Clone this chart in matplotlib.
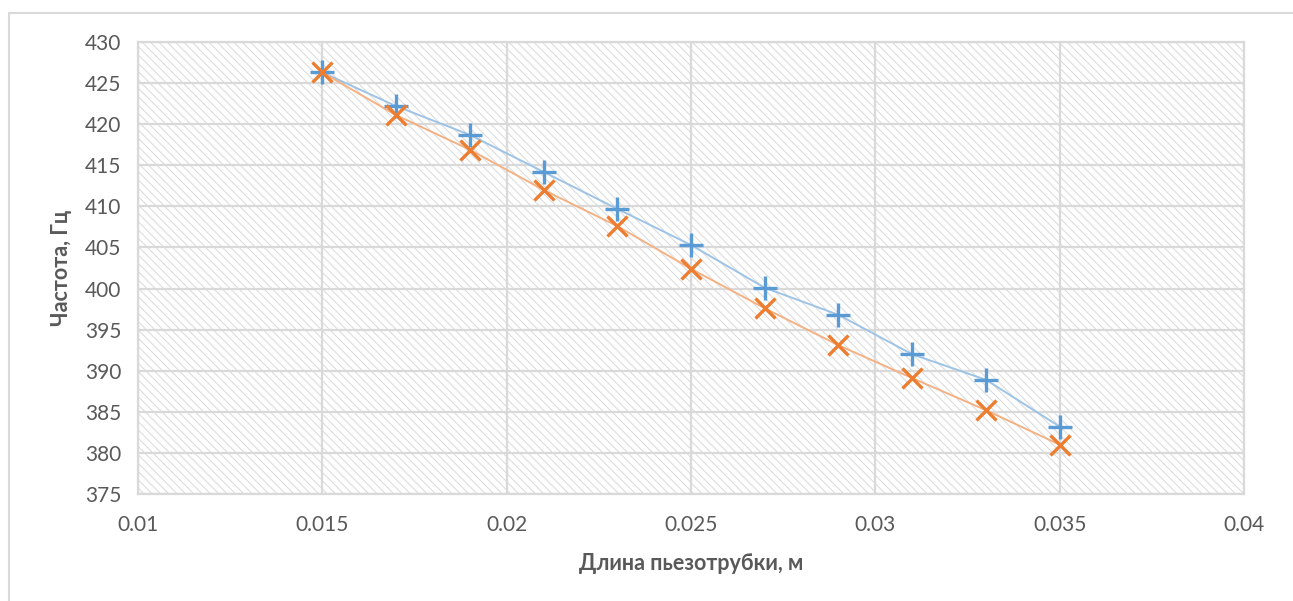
import matplotlib.pyplot as plt
from matplotlib.patches import Rectangle

# tube length, m
length = [0.015, 0.017, 0.019, 0.021, 0.023, 0.025, 0.027, 0.029, 0.031, 0.033, 0.035]
# frequency, Hz (two measurement series)
freq_plus = [426.3, 422.2, 418.7, 414.2, 409.7, 405.3, 400.1, 396.8, 392.0, 388.9, 383.2]
freq_cross = [426.3, 421.1, 416.9, 412.0, 407.6, 402.4, 397.6, 393.1, 389.1, 385.2, 381.0]

xticks = [0.01, 0.015, 0.02, 0.025, 0.03, 0.035, 0.04]
xticklabels = ['0.01', '0.015', '0.02', '0.025', '0.03', '0.035', '0.04']
yticks = list(range(375, 431, 5))

plt.rcParams['font.family'] = ['Lato', 'Open Sans', 'DejaVu Sans']
plt.rcParams['hatch.color'] = '#e0e0e0'
plt.rcParams['hatch.linewidth'] = 0.7

grey = '#595959'
gridc = '#d9d9d9'

fig = plt.figure(figsize=(12.93, 6.01), dpi=100)
ax = fig.add_axes([138/1293, 1-494/601, (1244-138)/1293, (494-42)/601])

# outer chart frame
fig.patches.append(Rectangle((9/1293, -0.1), 1.2, 1-13/601+0.1, transform=fig.transFigure,
                             fill=False, edgecolor=gridc, linewidth=1.5))

# hatched plot area
ax.add_patch(Rectangle((0, 0), 1, 1, transform=ax.transAxes, facecolor='white',
                       edgecolor=gridc, hatch='\\\\\\\\', linewidth=0, zorder=0))

ax.set_xlim(0.01, 0.04)
ax.set_ylim(375, 430)
ax.set_xticks(xticks, xticklabels)
ax.set_yticks(yticks)
ax.grid(True, color=gridc, linewidth=1.6, zorder=1)
ax.set_axisbelow(True)
for s in ax.spines.values():
    s.set_color(gridc)
    s.set_linewidth(1.6)
ax.tick_params(length=0, labelsize=15, colors=grey, pad=12)
ax.tick_params(axis='x', pad=15)

ax.plot(length, freq_plus, color='#9dc3e6', linewidth=1.4, zorder=3)
ax.plot(length, freq_cross, color='#f4b183', linewidth=1.4, zorder=3)
ax.plot(length, freq_plus, linestyle='none', marker='+', markersize=17,
        markeredgewidth=2.4, color='#5b9bd5', zorder=4)
ax.plot(length, freq_cross, linestyle='none', marker='x', markersize=15,
        markeredgewidth=2.4, color='#ed7d31', zorder=5)

ax.set_xlabel('Длина пьезотрубки, м', fontsize=15.5, fontweight='bold', color=grey, labelpad=13)
ax.set_ylabel('Частота, Гц', fontsize=15.5, fontweight='bold', color=grey, labelpad=9)

fig.savefig('out.png', dpi=100)
